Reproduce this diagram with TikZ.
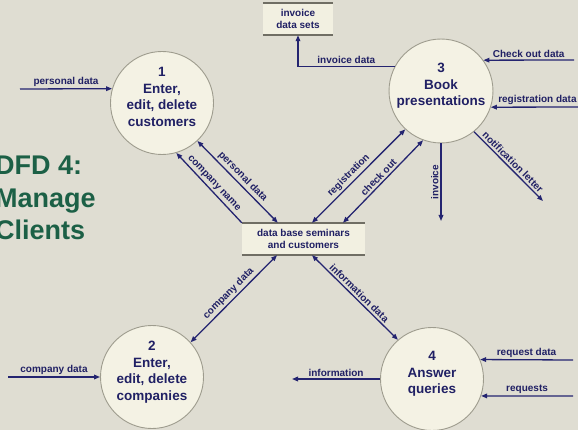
\documentclass[tikz,border=0pt]{standalone}
\usepackage{fontspec}
\setmainfont{Liberation Sans}
\usetikzlibrary{arrows.meta}
\definecolor{bgcol}{RGB}{223,221,210}
\definecolor{procfill}{RGB}{244,242,228}
\definecolor{proccol}{RGB}{158,156,142}
\definecolor{storefill}{RGB}{242,240,225}
\definecolor{storecol}{RGB}{112,110,100}
\definecolor{flowcol}{RGB}{36,36,112}
\definecolor{txtcol}{RGB}{32,32,100}
\definecolor{titlecol}{RGB}{28,96,70}
\tikzset{
  flowtip/.tip={Triangle[length=6pt,width=4.6pt]},
  proc/.style={circle, draw=proccol, line width=0.9pt, fill=procfill,
    minimum size=103pt, inner sep=0pt, text=txtcol, align=center,
    font=\fontsize{13.5}{16.5}\selectfont\bfseries},
  store/.style={rectangle, fill=storefill, inner sep=0pt, text=txtcol,
    align=center, minimum height=32pt, font=\fontsize{10}{12}\selectfont\bfseries},
  storeline/.style={draw=storecol, line width=2pt},
  flow/.style={draw=flowcol, line width=1.3pt, -flowtip},
  dflow/.style={flow, flowtip-flowtip},
  lbl/.style={text=txtcol, inner sep=2pt, font=\fontsize{10}{12}\selectfont\bfseries},
  title/.style={text=titlecol, align=left, inner sep=0pt,
    font=\fontsize{27}{32.5}\selectfont\bfseries}
}
\begin{document}
\begin{tikzpicture}[x=1pt, y=-1pt]
  \useasboundingbox (0,0) rectangle (578,430);
  \fill[bgcol] (0,0) rectangle (578,430);
  \clip (0,0) rectangle (578,430);

  \node[title, anchor=base west] (ttl) at (-5,240) {DFD 4:\\Manage\\Clients};

  \node[proc] (p1) at (162,103) {1\\Enter,\\edit, delete\\customers\\[-4pt]\mbox{}};
  \node[proc] (p2) at (152,377) {2\\Enter,\\edit, delete\\companies\\[-4pt]\mbox{}};
  \node[proc] (p3) at (441,91) {3\\Book\\presentations\\[-4pt]\mbox{}};
  \node[proc] (p4) at (432,379) {4\\Answer\\queries\\[-4pt]\mbox{}};

  \node[store, minimum width=123pt] (db) at (303.5,239) {data base seminars\\and customers};
  \node[store, minimum width=70pt] (inv) at (298,19) {invoice\\data sets};
  \draw[storeline] (db.north west) -- (db.north east) (db.south west) -- (db.south east);
  \draw[storeline] (inv.north west) -- (inv.north east) (inv.south west) -- (inv.south east);

  \coordinate (pdin) at (20,89);
  \coordinate (cdin) at (8,377);
  \coordinate (codin) at (574,60);
  \coordinate (rdin) at (584,107);
  \coordinate (rqdin) at (573,360);
  \coordinate (rqin) at (573,396);
  \coordinate (invout) at (441,221);
  \coordinate (notout) at (543,201);
  \coordinate (infout) at (292,379);

  \draw[flow] (pdin) -- node[lbl, above] {personal data} (p1.164);
  \draw[dflow] ([xshift=36pt]db.north west) -- node[lbl, sloped, above] {personal data} (p1.-47);
  \draw[flow] (db.north west) -- node[lbl, sloped, above] {company name} (p1.-74);

  \draw[dflow] ([xshift=8.5pt]db.north) -- node[lbl, sloped, above, pos=0.45] {registration} (p3.-133);
  \draw[dflow] ([xshift=39.5pt]db.north) -- node[lbl, sloped, above] {check out} (p3.-110);
  \draw[flow] (p3.south) -- node[lbl, rotate=90, above] {invoice} (invout);
  \draw[flow] (p3.-51) -- node[lbl, sloped, above] {notification letter} (notout);
  \draw[flow] (p3.152.5) -| node[lbl, above, pos=0.25] {invoice data} (inv.south);
  \draw[flow] (codin) -- node[lbl, above] {Check out data} (p3.36.6);
  \draw[flow] (rdin) -- node[lbl, above] {registration data} (p3.-18);

  \draw[flow] (cdin) -- node[lbl, above] {company data} (p2.west);
  \draw[dflow] ([xshift=-26.5pt]db.south) -- node[lbl, sloped, above] {company data} (p2.42);

  \draw[dflow] ([xshift=8.5pt]db.south) -- node[lbl, sloped, above] {information data} (p4.131);
  \draw[flow] (p4.west) -- node[lbl, above] {information} (infout);
  \draw[flow] (rqdin) -- node[lbl, above] {request data} (p4.22);
  \draw[flow] (rqin) -- node[lbl, above] {requests} (p4.-19.5);
\end{tikzpicture}
\end{document}
